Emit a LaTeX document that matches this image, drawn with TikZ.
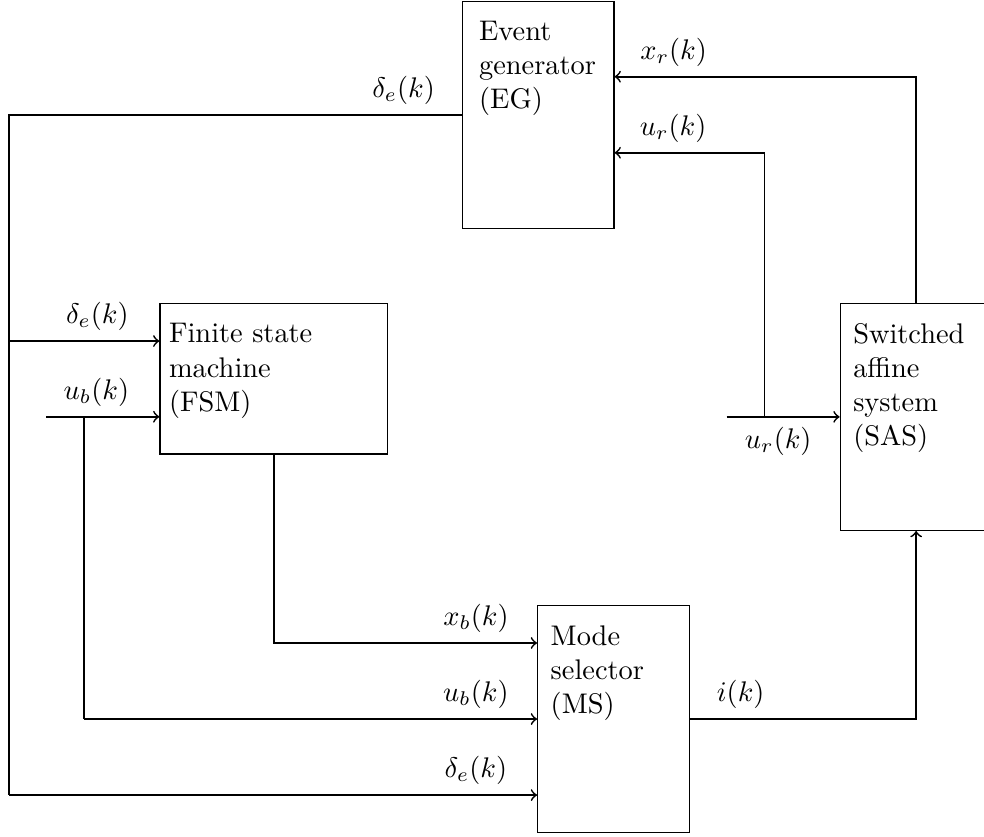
\documentclass[tikz,border=0pt]{standalone}
\usepackage{amsmath}
\usepackage{amssymb}
\usetikzlibrary{calc}

\tikzset{
  blk/.style={draw, minimum width=1.88cm, minimum height=2.81cm},
  blktext/.style={anchor=north west, align=left, inner xsep=4.6pt, inner ysep=7pt},
  bus/.style={semithick},
  arr/.style={semithick, ->},
}

\begin{document}
\begin{tikzpicture}
  \useasboundingbox (0,0) rectangle (12.18,-10.35);
  \node[blk, label={[blktext, xshift=1.4pt]north west:Event\\generator\\(EG)}] (EG) at (6.66,-1.42) {};
  \node[blk, minimum width=2.82cm, minimum height=1.86cm,
        label={[blktext, xshift=-1.4pt]north west:Finite state\\machine\\(FSM)}] (FSM) at (3.39,-4.69) {};
  \node[blk, label={[blktext]north west:Switched\\affine\\system\\(SAS)}] (SAS) at (11.34,-5.16) {};
  \node[blk, label={[blktext]north west:Mode\\selector\\(MS)}] (MS) at (7.595,-8.90) {};

  \coordinate (eg1) at ($(EG.north east)!0.3333!(EG.south east)$);
  \coordinate (eg2) at ($(EG.north east)!0.6667!(EG.south east)$);
  \coordinate (fsm1) at ($(FSM.north west)!0.25!(FSM.south west)$);
  \coordinate (fsm2) at ($(FSM.north west)!0.75!(FSM.south west)$);
  \coordinate (ms1) at ($(MS.north west)!0.1667!(MS.south west)$);
  \coordinate (ms3) at ($(MS.north west)!0.8333!(MS.south west)$);
  \coordinate (dtop) at (0.11,-1.42);
  \coordinate (ubS) at ($(fsm2)+(-1.40,0)$);
  \coordinate (ubB) at ($(fsm2)+(-0.93,0)$);
  \coordinate (urS) at ($(SAS.west)+(-1.40,0)$);
  \coordinate (urB) at ($(SAS.west)+(-0.93,0)$);

  \draw[bus] (EG.west) -- node[above, pos=0.128] {$\delta_e(k)$} (dtop) -- (dtop |- ms3);
  \draw[arr] (dtop |- ms3) -- node[above, pos=0.884] {$\delta_e(k)$} (ms3);
  \draw[arr] (dtop |- fsm1) -- node[above, pos=0.588] {$\delta_e(k)$} (fsm1);
  \draw[arr] (ubS) -- node[above, pos=0.443] {$u_b(k)$} (fsm2);
  \draw[bus] (ubB) -- (ubB |- MS.west);
  \draw[arr] (ubB |- MS.west) -- node[above, pos=0.865] {$u_b(k)$} (MS.west);
  \draw[arr] (FSM.south) |- node[above, pos=0.884] {$x_b(k)$} (ms1);
  \draw[arr] (MS.east) -| node[above, pos=0.112] {$i(k)$} (SAS.south);
  \draw[arr] (SAS.north) |- node[above, pos=0.902] {$x_r(k)$} (eg1);
  \draw[arr] (urS) -- node[below, pos=0.457] {$u_r(k)$} (SAS.west);
  \draw[arr] (urB) |- node[above, pos=0.805] {$u_r(k)$} (eg2);
\end{tikzpicture}
\end{document}
